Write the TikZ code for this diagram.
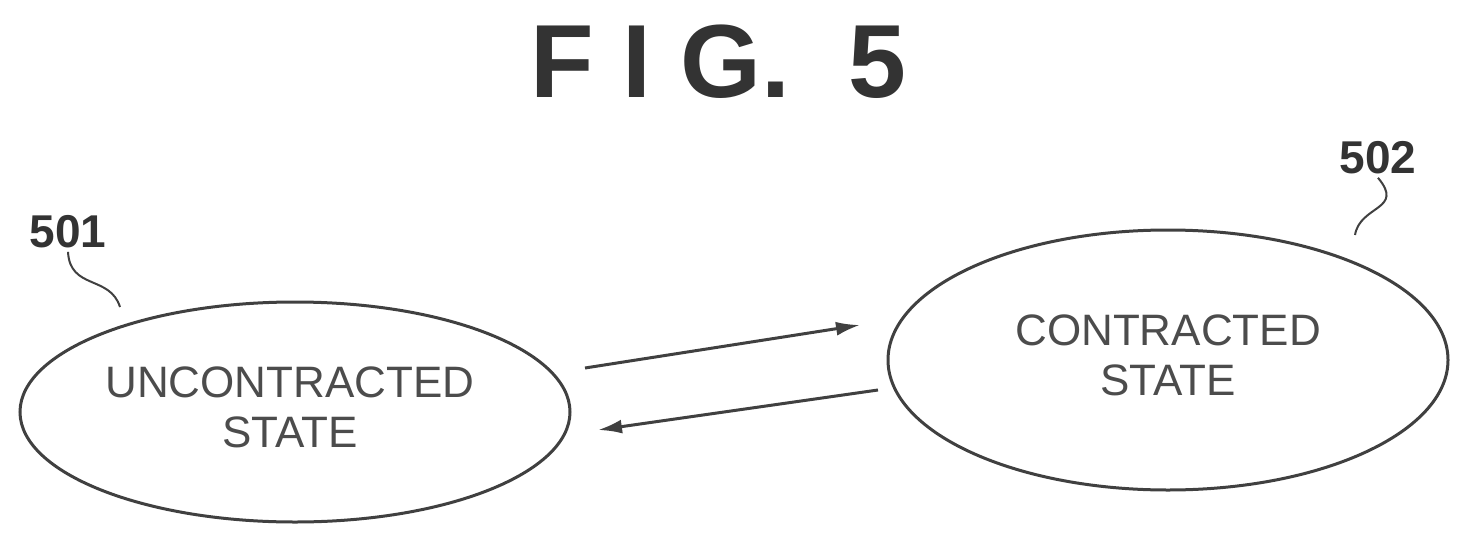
\documentclass[tikz,border=0pt]{standalone}
\usepackage{fontspec}
\setmainfont{Liberation Sans}
\usetikzlibrary{arrows.meta}
\begin{document}
\begin{tikzpicture}[x=1pt,y=-1pt,
  txt/.style={font=\fontsize{44}{50}\selectfont,text=black!70,align=center},
  ell/.style={draw=black!75,line width=3pt},
  lbl/.style={font=\fontsize{46}{50}\selectfont\bfseries,text=black!80},
  arr/.style={draw=black!75,line width=3pt,-{Latex[length=24pt,width=14pt]}}]
\useasboundingbox (0,0) rectangle (1475,546);
\node[font=\fontsize{104}{106}\selectfont\bfseries,text=black!80] (title) at (718,62) {F I G.\ \ 5};
\node[txt] (u) at (290,407) {UNCONTRACTED\\STATE};
\node[txt] (c) at (1168,355) {CONTRACTED\\STATE};
\draw[ell] (295,412) ellipse [x radius=275, y radius=110];
\draw[ell] (1168,360) ellipse [x radius=280, y radius=130];
\node[lbl] (n1) at (68,232) {501};
\node[lbl] (n2) at (1378,158) {502};
\coordinate (a1) at (585,368); \coordinate (a2) at (860,325);
\coordinate (b1) at (878,390); \coordinate (b2) at (598,430);
\draw[arr] (a1) -- (a2);
\draw[arr] (b1) -- (b2);
\draw[draw=black!75,line width=2pt] (n1.south) .. controls (70,290) and (110,275) .. (120,307);
\draw[draw=black!75,line width=2pt] (n2.south) .. controls (1405,210) and (1360,205) .. (1355,235);
\end{tikzpicture}
\end{document}
